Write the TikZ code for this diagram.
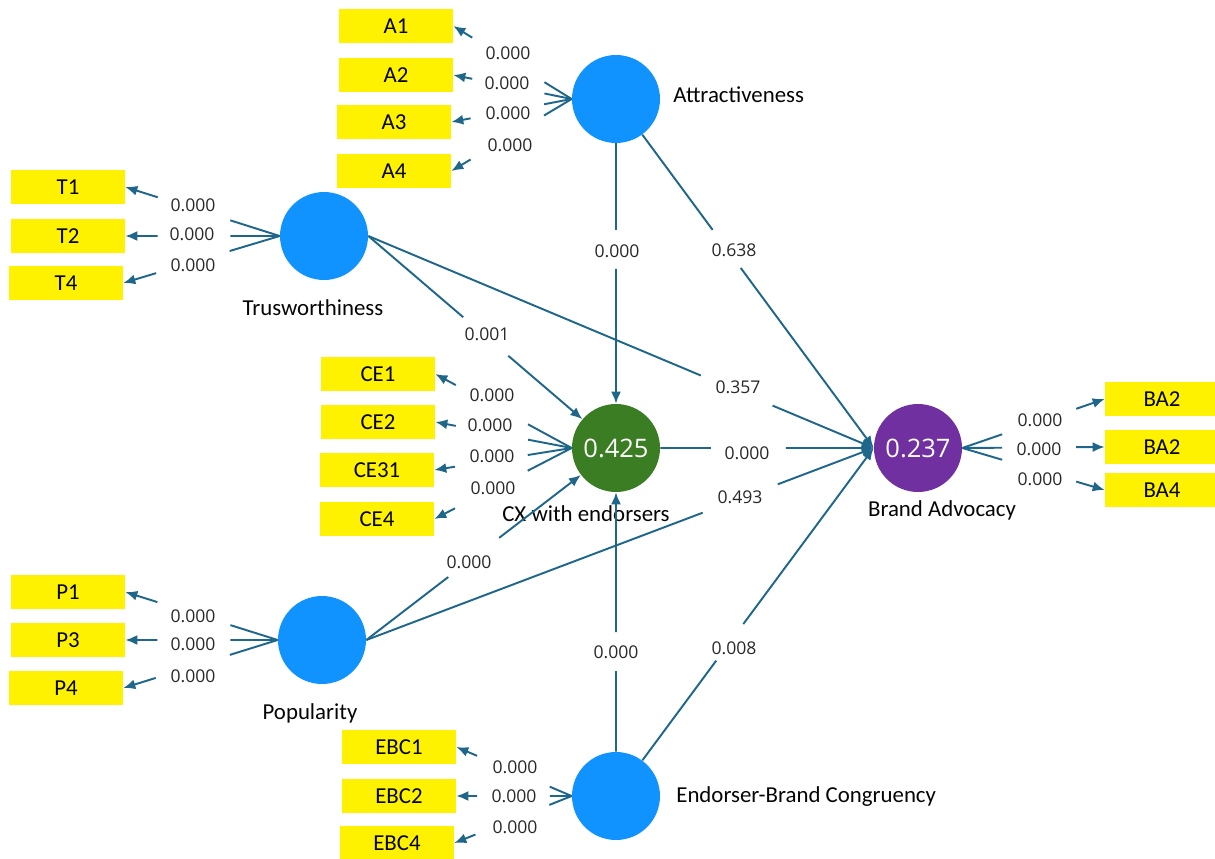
\documentclass[tikz,border=0pt]{standalone}
\usepackage{fontspec}
\setmainfont{Carlito}
\newfontfamily\numfont{Open Sans}
\usetikzlibrary{arrows.meta,calc}
\definecolor{edgec}{RGB}{31,103,138}
\definecolor{lvblue}{RGB}{17,147,255}
\definecolor{lvgreen}{RGB}{59,125,35}
\definecolor{lvpurple}{RGB}{112,48,160}
\definecolor{txt}{RGB}{5,5,5}
\definecolor{numc}{RGB}{40,40,40}
\newcommand\gapline[4]{%
  \draw[edge] (#1) -- ($(#1)!#3!(#2)$);
  \draw[edge,arr] ($(#1)!#4!(#2)$) -- (#2);}
\begin{document}
\begin{tikzpicture}[x=0.02cm,y=-0.02cm,
  edge/.style={draw=edgec,line width=1.1pt},
  arr/.style={-{Latex[length=2.4mm,width=2mm]}},
  indbox/.style={fill=yellow,minimum width=2.28cm,minimum height=0.68cm,inner sep=0pt,font=\fontsize{13}{15}\selectfont,text=txt},
  lv/.style={circle,minimum size=1.76cm,inner sep=0pt,text=white,font=\numfont\fontsize{14.5}{17}\selectfont},
  lvname/.style={font=\fontsize{13}{15}\selectfont,text=txt,inner sep=0pt},
  num/.style={font=\numfont\fontsize{10}{12}\selectfont,text=numc,inner sep=0pt}]
\useasboundingbox (0,0) rectangle (1215,859);

% latent variables
\node[lv,fill=lvblue] (Attr) at (616,99) {};
\node[lv,fill=lvblue] (Trust) at (324,236) {};
\node[lv,fill=lvgreen] (CX) at (616,448) {0.425};
\node[lv,fill=lvpurple] (BA) at (918,448) {0.237};
\node[lv,fill=lvblue] (Pop) at (322,640) {};
\node[lv,fill=lvblue] (EBC) at (616,796) {};

% names
\node[lvname,anchor=west] (nAttr) at (673,95) {Attractiveness};
\node[lvname] (nTrust) at (313,308) {Trusworthiness};
\node[lvname] (nCX) at (586,514) {CX with endorsers};
\node[lvname] (nBA) at (942,510) {Brand Advocacy};
\node[lvname] (nPop) at (310,713) {Popularity};
\node[lvname,anchor=west] (nEBC) at (676,797) {Endorser-Brand Congruency};

% indicators
\node[indbox] (A1) at (396,26) {A1};
\node[indbox] (A2) at (396,75) {A2};
\node[indbox] (A3) at (394,122) {A3};
\node[indbox] (A4) at (394,171) {A4};
\node[indbox] (T1) at (68,187) {T1};
\node[indbox] (T2) at (68,236) {T2};
\node[indbox] (T4) at (66,283) {T4};
\node[indbox] (CE1) at (378,374) {CE1};
\node[indbox] (CE2) at (378,422) {CE2};
\node[indbox] (CE31) at (377,470) {CE31};
\node[indbox] (CE4) at (377,519) {CE4};
\node[indbox] (BAa) at (1162,399) {BA2};
\node[indbox] (BAb) at (1162,447) {BA2};
\node[indbox] (BAc) at (1162,490) {BA4};
\node[indbox] (P1) at (68,592) {P1};
\node[indbox] (P3) at (68,640) {P3};
\node[indbox] (P4) at (66,688) {P4};
\node[indbox] (EBC1) at (399,747) {EBC1};
\node[indbox] (EBC2) at (399,796) {EBC2};
\node[indbox] (EBC4) at (397,843) {EBC4};

% outer loadings
\gapline{Attr.west}{A1.east}{0.23}{0.84}
\gapline{Attr.west}{A2.east}{0.23}{0.84}
\gapline{Attr.west}{A3.east}{0.23}{0.84}
\gapline{Attr.west}{A4.east}{0.23}{0.84}
\gapline{Trust.west}{T1.east}{0.32}{0.79}
\gapline{Trust.west}{T2.east}{0.32}{0.79}
\gapline{Trust.west}{T4.east}{0.32}{0.79}
\gapline{CX.west}{CE1.east}{0.32}{0.85}
\gapline{CX.west}{CE2.east}{0.32}{0.85}
\gapline{CX.west}{CE31.east}{0.32}{0.85}
\gapline{CX.west}{CE4.east}{0.32}{0.85}
\gapline{BA.east}{BAa.west}{0.28}{0.80}
\gapline{BA.east}{BAb.west}{0.28}{0.80}
\gapline{BA.east}{BAc.west}{0.28}{0.80}
\gapline{Pop.west}{P1.east}{0.31}{0.79}
\gapline{Pop.west}{P3.east}{0.31}{0.79}
\gapline{Pop.west}{P4.east}{0.31}{0.79}
\gapline{EBC.west}{EBC1.east}{0.19}{0.82}
\gapline{EBC.west}{EBC2.east}{0.19}{0.82}
\gapline{EBC.west}{EBC4.east}{0.19}{0.82}

% inner model
\gapline{Attr}{CX}{0.375}{0.487}
\gapline{Attr}{BA.west}{0.375}{0.484}
\gapline{Trust.east}{CX}{0.383}{0.565}
\gapline{Trust.east}{BA.west}{0.658}{0.80}
\gapline{CX}{BA.west}{0.368}{0.659}
\gapline{Pop.east}{BA.west}{0.663}{0.811}
\gapline{Pop.east}{CX}{0.328}{0.532}
\gapline{EBC}{CX}{0.359}{0.471}
\gapline{EBC}{BA.west}{0.389}{0.494}

% outer loading values
\node[num] (la1) at (508,53) {0.000};
\node[num] (la2) at (507,83) {0.000};
\node[num] (la3) at (508,113) {0.000};
\node[num] (la4) at (510,145) {0.000};
\node[num] (lt1) at (193,205) {0.000};
\node[num] (lt2) at (192,234) {0.000};
\node[num] (lt4) at (193,265) {0.000};
\node[num] (lc1) at (492,395) {0.000};
\node[num] (lc2) at (490,425) {0.000};
\node[num] (lc3) at (492,456) {0.000};
\node[num] (lc4) at (493,488) {0.000};
\node[num] (lb1) at (1040,420) {0.000};
\node[num] (lb2) at (1039,449) {0.000};
\node[num] (lb3) at (1040,479) {0.000};
\node[num] (lp1) at (193,616) {0.000};
\node[num] (lp3) at (193,644) {0.000};
\node[num] (lp4) at (193,676) {0.000};
\node[num] (le1) at (515,767) {0.000};
\node[num] (le2) at (514,796) {0.000};
\node[num] (le4) at (515,827) {0.000};

% path coefficient values
\node[num] (p1) at (617,251) {0.000};
\node[num] (p2) at (734,250) {0.638};
\node[num] (p3) at (487,334) {0.001};
\node[num] (p4) at (738,387) {0.357};
\node[num] (p5) at (747,453) {0.000};
\node[num] (p6) at (740,497) {0.493};
\node[num] (p7) at (469,562) {0.000};
\node[num] (p8) at (616,652) {0.000};
\node[num] (p9) at (734,648) {0.008};
\end{tikzpicture}
\end{document}
